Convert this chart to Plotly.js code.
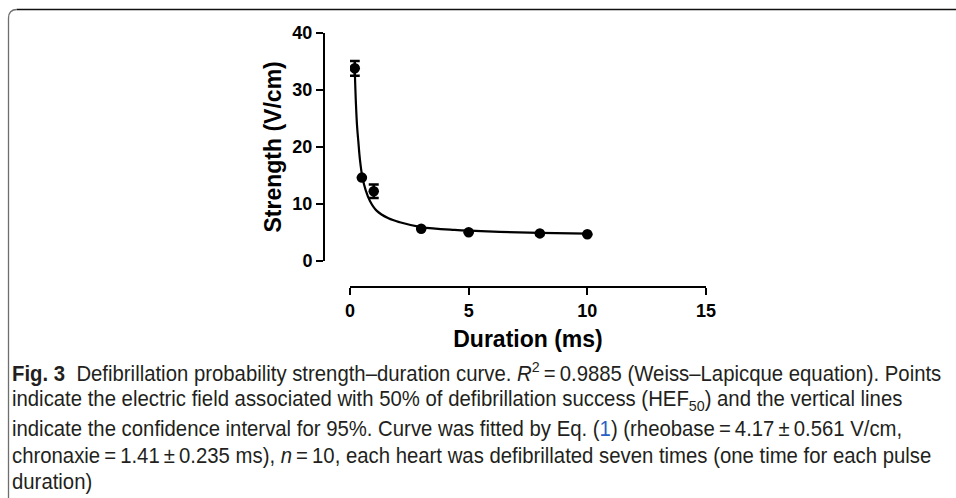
<!DOCTYPE html>
<html>
<head>
<meta charset="utf-8">
<script src="https://cdn.plot.ly/plotly-3.0.1.min.js"></script>
<style>
  html, body { margin: 0; padding: 0; background: #fff; }
  #chart { width: 956px; height: 498px; }
</style>
</head>
<body>
<div id="chart"></div>
<script>
// ---- data ----
const durations = [0.2, 0.5, 1, 3, 5, 8, 10];            // ms
const strengths = [33.8, 14.6, 12.2, 5.6, 5.0, 4.8, 4.65]; // V/cm (HEF50)
const ciHalf    = [1.3, 0, 1.2, 0, 0, 0, 0];               // 95% CI half-width

// fitted Weiss–Lapicque curve
const curveT = [0.2, 0.25, 0.3, 0.35, 0.42, 0.52, 0.66, 0.84, 1.12, 1.62, 2.1, 3.0, 4.4, 6.3, 8.0, 10.0];
const curveY = [33.6, 27.6, 23.5, 21.0, 17.7, 14.7, 12.4, 10.5, 8.8, 7.45, 6.75, 5.9, 5.4, 5.08, 4.9, 4.76];

const xTicks = [0, 5, 10, 15];
const yTicks = [0, 10, 20, 30, 40];

const xTitle = 'Duration (ms)';
const yTitle = 'Strength (V/cm)';

const captionLines = [
  '<b>Fig. 3</b>\u00a0\u00a0Defibrillation probability strength–duration curve. <i>R</i><sup>2</sup>\u2009=\u20090.9885 (Weiss–Lapicque equation). Points',
  'indicate the electric field associated with 50% of defibrillation success (HEF<sub>50</sub>) and the vertical lines',
  'indicate the confidence interval for 95%. Curve was fitted by Eq. (<span style="color:#2a5fc4">1</span>) (rheobase\u2009=\u20094.17\u2009±\u20090.561 V/cm,',
  'chronaxie\u2009=\u20091.41\u2009±\u20090.235 ms), <i>n</i>\u2009=\u200910, each heart was defibrillated seven times (one time for each pulse',
  'duration)'
];

// ---- layout geometry (pixels) ----
const W = 956, H = 498;
const L = 324, R = 250, T = 33, B = 211;
const pw = W - L - R, ph = H - T - B;
const px2x = p => (p - L) / pw;
const py2y = p => (H - B - p) / ph;

const captionY = [372, 400, 428, 455, 481];
const captionLeft = 13;
const captionFirstLineWidth = 930;
const captionFont = { family: '"Liberation Sans", Arial, sans-serif', size: 22, color: '#231f20' };

const annotations = captionLines.map((t, i) => ({
  text: t, xref: 'paper', yref: 'paper',
  x: px2x(captionLeft - 3), y: py2y(captionY[i]),
  xanchor: 'left', yanchor: 'middle', showarrow: false,
  font: captionFont, align: 'left'
}));

const tickFont = { family: '"Liberation Sans", Arial, sans-serif', size: 18, color: '#000', weight: 'bold' };
const titleFont = { family: '"Liberation Sans", Arial, sans-serif', size: 23, color: '#000', weight: 'bold' };

const traces = [
  {
    x: curveT, y: curveY, type: 'scatter', mode: 'lines',
    line: { color: '#000', width: 2.2, shape: 'spline', smoothing: 1 },
    hoverinfo: 'skip', showlegend: false
  },
  {
    x: durations, y: strengths, type: 'scatter', mode: 'markers',
    marker: { color: '#000', size: 10.5, symbol: 'circle' },
    error_y: { type: 'data', array: ciHalf, visible: true, color: '#000', thickness: 2.5, width: 5 },
    showlegend: false
  }
];

const layout = {
  width: W, height: H,
  margin: { l: L, r: R, t: T, b: B, pad: 0 },
  paper_bgcolor: '#fff', plot_bgcolor: '#fff',
  showlegend: false,
  xaxis: {
    domain: [px2x(350), 1], range: [0, 15], anchor: 'free', position: 0,
    tickvals: xTicks, ticktext: xTicks.map(String),
    showgrid: false, zeroline: false, showline: true, linecolor: '#000', linewidth: 2,
    ticks: 'outside', ticklen: 7, tickwidth: 2, tickcolor: '#000',
    tickfont: tickFont,
    title: { text: xTitle, font: titleFont, standoff: 10 }
  },
  yaxis: {
    domain: [py2y(260.7), 1], range: [0, 40], anchor: 'free', position: 0,
    tickvals: yTicks, ticktext: yTicks.map(String),
    showgrid: false, zeroline: false, showline: true, linecolor: '#000', linewidth: 2,
    ticks: 'outside', ticklen: 7, tickwidth: 2, tickcolor: '#000',
    tickfont: tickFont,
    title: { text: yTitle, font: titleFont, standoff: 3 }
  },
  annotations: annotations,
  shapes: [
    { type: 'line', xref: 'paper', yref: 'paper', x0: px2x(17), x1: px2x(956), y0: py2y(9.5), y1: py2y(9.5),
      line: { color: '#111', width: 1.3 } },
    { type: 'path', xref: 'paper', yref: 'paper',
      path: `M ${px2x(8.5)},${py2y(498)} L ${px2x(8.5)},${py2y(18)} Q ${px2x(8.5)},${py2y(9.5)} ${px2x(17)},${py2y(9.5)}`,
      line: { color: '#6e6e6e', width: 1.3 } }
  ]
};

Plotly.newPlot('chart', traces, layout, { staticPlot: true, displayModeBar: false }).then(gd => {
  // the caption uses a condensed face in the reference: narrow the real text horizontally
  const texts = Array.from(gd.querySelectorAll('text.annotation-text'));
  if (!texts.length) return;
  const w0 = texts[0].getBBox().width;
  const s = w0 > 0 ? Math.min(1, captionFirstLineWidth / w0) : 1;
  texts.forEach(t => {
    const bb = t.getBBox();
    const x0 = bb.x;
    t.setAttribute('transform', `translate(${x0},0) scale(${s},1) translate(${-x0},0)`);
  });
});
</script>
</body>
</html>
